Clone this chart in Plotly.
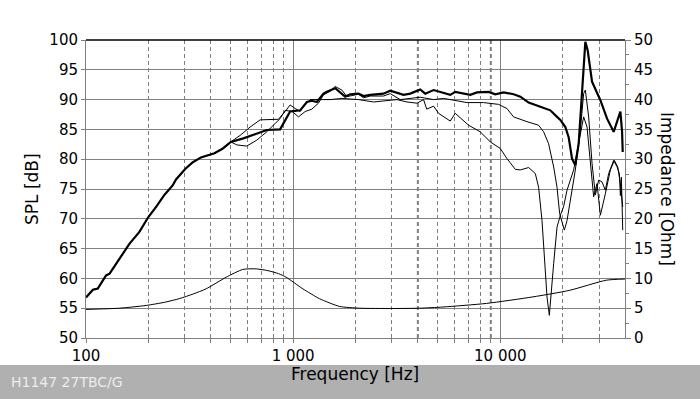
import math
import plotly.graph_objects as go

# ---------------- data ----------------
freq_low = [100, 108, 114, 118, 125, 130, 145, 162, 181, 200, 218, 239, 262, 272, 302,
            328, 359, 394, 417, 458, 492]
spl_low = [56.8, 58.1, 58.3, 59.1, 60.5, 60.8, 63.3, 65.8, 67.8, 70.3, 72.0, 74.0, 75.6,
           76.6, 78.4, 79.5, 80.3, 80.7, 81.0, 81.8, 82.7]

freq_on_hi = [500, 575, 668, 746, 865, 898, 967, 1023, 1081, 1165, 1231, 1302, 1401, 1455,
              1596, 1783, 1886, 2068, 2186, 2355, 2730, 2942, 3412, 3675, 4107, 4342, 4764,
              5733, 6062, 7166, 7717, 8783, 9460, 10380, 11600, 12500, 13700, 15610, 17440,
              18790, 19500, 20610, 21380, 22200, 23030, 23900, 24820, 25740, 26410, 27730,
              30420, 32770, 35270, 35950, 38000, 38720, 39000]
spl_on_hi = [82.9, 83.5, 84.3, 84.9, 85.0, 86.0, 88.0, 88.1, 88.2, 89.6, 89.8, 89.6, 91.0,
             91.3, 91.9, 90.5, 90.9, 91.0, 90.6, 90.8, 91.0, 91.5, 90.8, 91.0, 91.7, 91.0,
             91.6, 90.8, 91.3, 90.8, 91.2, 91.3, 90.9, 91.2, 90.9, 90.5, 89.5, 88.8, 88.2,
             87.1, 86.6, 85.4, 83.7, 80.1, 79.0, 82.6, 90.5, 99.7, 98.3, 93.0, 89.9, 86.8,
             84.6, 85.4, 88.0, 84.6, 81.2]

freq_30_hi = [500, 535, 597, 668, 746, 819, 865, 915, 990, 1061, 1143, 1231, 1325, 1401,
              1509, 1596, 1719, 1817, 1886, 2068, 2186, 2355, 2730, 2942, 3288, 3675, 4107,
              4764, 5324, 6180, 6902, 8302, 9810, 10770, 11590, 13450, 15310, 16190, 17110,
              18100, 18790, 19340, 19870, 20380, 21000, 22200, 23030, 24350, 25260, 25740,
              26710, 27730, 28770, 29850, 30980, 32150, 33360, 35270, 36630, 37570, 38000,
              38420, 39000]
spl_30_hi = [82.9, 82.4, 82.2, 83.2, 84.6, 86.0, 86.8, 88.2, 88.0, 87.1, 88.0, 88.4, 89.4,
             90.8, 91.4, 92.2, 91.6, 90.5, 90.6, 90.9, 90.3, 90.6, 90.6, 91.0, 90.0, 90.2,
             90.4, 90.0, 90.2, 89.8, 89.5, 89.5, 89.2, 88.5, 87.1, 86.3, 85.7, 84.6, 82.6,
             78.7, 75.3, 70.9, 69.2, 68.1, 69.7, 75.3, 78.2, 84.9, 91.0, 91.6, 87.1, 79.3,
             74.0, 76.5, 76.2, 74.8, 77.6, 79.8, 78.7, 77.6, 73.9, 77.0, 68.1]

freq_60_hi = [500, 555, 620, 693, 774, 849, 915, 967, 1023, 1081, 1121, 1208, 1401, 1509,
              1719, 2068, 2443, 2722, 3170, 3543, 3813, 3960, 4261, 4416, 4764, 5035, 5733,
              6062, 7030, 8000, 8949, 10000, 10770, 11820, 12500, 13700, 14760, 15310, 15900,
              16320, 16810, 17250, 17440, 18100, 18790, 19500, 20200, 21000, 22600, 24350,
              25260, 26230, 27220, 28230, 29310, 30420, 32150, 34000, 35550, 36890, 38000,
              39000]
spl_60_hi = [82.9, 84.0, 85.4, 86.6, 86.7, 86.7, 88.0, 89.1, 88.5, 88.0, 88.8, 90.0, 90.0,
             90.0, 90.2, 90.0, 89.6, 89.8, 90.0, 89.6, 89.4, 89.4, 90.0, 88.4, 88.9, 87.7,
             86.4, 87.7, 85.7, 84.6, 82.9, 81.8, 80.1, 78.3, 78.2, 78.6, 77.6, 75.3, 69.7,
             63.6, 56.9, 53.8, 55.5, 62.5, 68.6, 70.6, 72.0, 74.8, 78.2, 84.3, 87.1, 85.4,
             79.3, 73.7, 75.9, 70.6, 74.2, 78.2, 79.8, 78.7, 75.9, 72.0]

freq_imp = [100, 145, 195, 240, 282, 330, 380, 475, 571, 663, 755, 850, 925, 1114, 1340,
            1674, 2091, 3000, 4074, 5284, 8556, 14380, 21620, 32520, 40000]
imp_ohm = [4.8, 5.0, 5.46, 6.0, 6.6, 7.4, 8.25, 10.2, 11.5, 11.6, 11.3, 10.8, 10.2, 8.25,
           6.6, 5.3, 5.0, 4.95, 5.0, 5.2, 5.8, 6.9, 8.0, 9.7, 9.9]

x_tick_vals = [100, 1000, 10000]
x_tick_text = ["100", "1 000", "10 000"]
x_minor_vals = [200, 300, 400, 500, 600, 700, 800, 900,
                2000, 3000, 4000, 5000, 6000, 7000, 8000, 9000, 20000, 30000]
x_emph_vals = [4000, 9000]

# ---------------- layout constants ----------------
W, H = 700, 399
L, R, T, B = 86, 75, 40, 61
PW, PH = W - L - R, H - T - B
GRID = "#808080"
FONT = "DejaVu Sans"


def px_x(px):
    return (px - L) / PW


def px_y(py):
    return (H - B - py) / PH


fig = go.Figure()
thin = dict(color="black", width=1)
fig.add_trace(go.Scatter(x=freq_low + freq_60_hi, y=spl_low + spl_60_hi, mode="lines",
                         line=thin, name="60°"))
fig.add_trace(go.Scatter(x=freq_low + freq_30_hi, y=spl_low + spl_30_hi, mode="lines",
                         line=thin, name="30°"))
fig.add_trace(go.Scatter(x=freq_low + freq_on_hi, y=spl_low + spl_on_hi, mode="lines",
                         line=dict(color="black", width=2.2), name="0°"))
fig.add_trace(go.Scatter(x=freq_imp, y=imp_ohm, mode="lines", yaxis="y2",
                         line=dict(color="black", width=1, shape="spline", smoothing=0.6),
                         name="Impedance"))

shapes = []
for f in x_emph_vals:
    shapes.append(dict(type="line", xref="x", yref="paper", x0=f, x1=f, y0=0, y1=1,
                       line=dict(color=GRID, width=2, dash="4px,3px"), layer="below"))
shapes.append(dict(type="line", xref="paper", yref="paper", x0=0, x1=1, y0=1, y1=1,
                   line=dict(color="black", width=1.5)))
shapes.append(dict(type="rect", xref="paper", yref="paper", x0=px_x(0), x1=px_x(W),
                   y0=px_y(H), y1=px_y(365), fillcolor="#b0b0b0", line=dict(width=0),
                   layer="below"))

annotations = [
    dict(text="Frequency [Hz]", xref="paper", yref="paper", x=px_x(355), y=px_y(374),
         showarrow=False, font=dict(family=FONT, size=17, color="black"),
         xanchor="center", yanchor="middle"),
    dict(text="H1147 27TBC/G", xref="paper", yref="paper", x=px_x(9), y=px_y(382),
         showarrow=False, font=dict(family=FONT, size=14, color="#ececec"),
         xanchor="left", yanchor="middle"),
    dict(text="SPL [dB]", xref="paper", yref="paper", x=px_x(32), y=px_y(189),
         showarrow=False, textangle=-90, font=dict(family=FONT, size=17, color="black"),
         xanchor="center", yanchor="middle"),
    dict(text="Impedance [Ohm]", xref="paper", yref="paper", x=px_x(667), y=px_y(189),
         showarrow=False, textangle=90, font=dict(family=FONT, size=17, color="black"),
         xanchor="center", yanchor="middle"),
]

tickfont = dict(family=FONT, size=15, color="black")
fig.update_layout(
    width=W, height=H,
    margin=dict(l=L, r=R, t=T, b=B, pad=0),
    paper_bgcolor="white", plot_bgcolor="white",
    showlegend=False,
    xaxis=dict(type="log", range=[2, math.log10(40000)],
               tickmode="array", tickvals=x_tick_vals, ticktext=x_tick_text,
               showgrid=True, gridcolor=GRID, gridwidth=1,
               showline=True, linecolor=GRID, linewidth=1,
               ticks="outside", ticklen=4, tickcolor=GRID, tickfont=tickfont,
               zeroline=False,
               minor=dict(tickmode="array", tickvals=x_minor_vals, showgrid=True,
                          gridcolor=GRID, gridwidth=1, griddash="4px,3px",
                          ticks="outside", ticklen=4, tickcolor=GRID)),
    yaxis=dict(range=[50, 100], tick0=50, dtick=5,
               showgrid=True, gridcolor=GRID, gridwidth=1,
               showline=True, linecolor=GRID, linewidth=1,
               ticks="outside", ticklen=4, tickcolor=GRID, tickfont=tickfont,
               zeroline=False),
    yaxis2=dict(range=[0, 50], tick0=0, dtick=5, overlaying="y", side="right",
                showgrid=False, showline=True, linecolor=GRID, linewidth=1,
                ticks="outside", ticklen=5, tickcolor=GRID, tickfont=tickfont,
                zeroline=False,
                minor=dict(dtick=2.5, ticks="outside", ticklen=3, tickcolor=GRID,
                           showgrid=False)),
    shapes=shapes,
    annotations=annotations,
)

fig.write_html("out.html",
               config={"displayModeBar": False},
               post_script="document.body.style.margin='0px';"
                           "document.body.style.overflow='hidden';")
